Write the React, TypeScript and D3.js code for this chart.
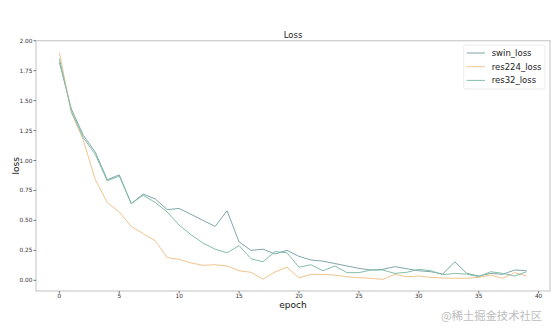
import React from "react";
import * as d3 from "d3";

const epochs = d3.range(0, 40);
const swinLoss = [1.82, 1.43, 1.21, 1.07, 0.84, 0.88, 0.64, 0.72, 0.68, 0.59, 0.6, 0.55, 0.5, 0.45, 0.58, 0.32, 0.25, 0.26, 0.22, 0.25, 0.2, 0.17, 0.16, 0.14, 0.12, 0.1, 0.086, 0.092, 0.114, 0.097, 0.08, 0.072, 0.053, 0.155, 0.058, 0.036, 0.058, 0.05, 0.086, 0.08];
const res224Loss = [1.9, 1.4, 1.17, 0.84, 0.65, 0.57, 0.45, 0.39, 0.33, 0.19, 0.175, 0.145, 0.125, 0.13, 0.12, 0.08, 0.067, 0.01, 0.07, 0.11, 0.02, 0.05, 0.05, 0.044, 0.03, 0.022, 0.017, 0.008, 0.05, 0.03, 0.036, 0.025, 0.019, 0.017, 0.017, 0.025, 0.044, 0.017, 0.064, 0.036];
const res32Loss = [1.85, 1.41, 1.19, 1.05, 0.83, 0.87, 0.64, 0.71, 0.65, 0.57, 0.46, 0.38, 0.31, 0.26, 0.23, 0.29, 0.18, 0.155, 0.24, 0.23, 0.11, 0.13, 0.08, 0.12, 0.064, 0.064, 0.086, 0.086, 0.058, 0.067, 0.092, 0.08, 0.047, 0.058, 0.052, 0.03, 0.072, 0.058, 0.036, 0.072];
const seriesNames = ["swin_loss", "res224_loss", "res32_loss"];
const seriesColors = ["#7fa6ab", "#f0c48e", "#84bfa9"];
const xTicks = [0, 5, 10, 15, 20, 25, 30, 35, 40];
const yTicks = [0, 0.25, 0.5, 0.75, 1.0, 1.25, 1.5, 1.75, 2.0];

const W = 556, H = 334;
const L = 36, R = 550, T = 40.7, B = 291;
const font = "DejaVu Sans, sans-serif";

export default function App() {
  const x = d3.scaleLinear().domain([-1.95, 40.95]).range([L, R]);
  const y = d3.scaleLinear().domain([-0.089, 2.0]).range([B, T]);
  const all = [swinLoss, res224Loss, res32Loss];
  const line = d3.line<number>().x((_, i) => x(epochs[i])).y((d) => y(d));
  const legX = 463.7, legY = 45, legW = 81.3, legH = 44;
  return (
    <svg width={W} height={H} style={{ position: "fixed", left: 0, top: 0, background: "#fff" }}>
      <rect x={0} y={0} width={W} height={H} fill="#fff" />
      <text x={(L + R) / 2} y={38} fontSize={8.5} fontFamily={font} textAnchor="middle" fill="#222">Loss</text>
      {all.map((s, i) => (
        <path key={i} d={line(s) || ""} fill="none" stroke={seriesColors[i]} strokeWidth={1} />
      ))}
      <rect x={L} y={T} width={R - L} height={B - T} fill="none" stroke="#cfcfcf" strokeWidth={1.3} />
      {yTicks.map((t) => (
        <g key={"y" + t}>
          <line x1={L - 2.5} x2={L} y1={y(t)} y2={y(t)} stroke="#555" strokeWidth={0.8} />
          <text x={L - 3.5} y={y(t) + 2} fontSize={5.8} fontFamily={font} textAnchor="end" fill="#333">{d3.format(".2f")(t)}</text>
        </g>
      ))}
      {xTicks.map((t) => (
        <g key={"x" + t}>
          <line x1={x(t)} x2={x(t)} y1={B} y2={B + 2.5} stroke="#555" strokeWidth={0.8} />
          <text x={x(t)} y={B + 7} fontSize={5.8} fontFamily={font} textAnchor="middle" fill="#333">{t}</text>
        </g>
      ))}
      <text x={(L + R) / 2} y={307.5} fontSize={9} fontFamily={font} textAnchor="middle" fill="#111">epoch</text>
      <text transform={`translate(18.5,${(T + B) / 2}) rotate(-90)`} fontSize={9} fontFamily={font} textAnchor="middle" fill="#111">loss</text>
      <rect x={legX} y={legY} width={legW} height={legH} rx={2} fill="#fff" fillOpacity={0.85} stroke="#e6e6e6" strokeWidth={0.8} />
      {seriesNames.map((n, i) => {
        const cy = 53 + i * 13.7;
        return (
          <g key={n}>
            <line x1={466.7} x2={485} y1={cy} y2={cy} stroke={seriesColors[i]} strokeWidth={1} />
            <text x={491.7} y={cy + 3} fontSize={8.5} fontFamily={font} fill="#222">{n}</text>
          </g>
        );
      })}
      <text x={441} y={320} fontSize={11.3} fontFamily="Noto Sans CJK SC, sans-serif" fill="#bdbdbd">@稀土掘金技术社区</text>
    </svg>
  );
}
